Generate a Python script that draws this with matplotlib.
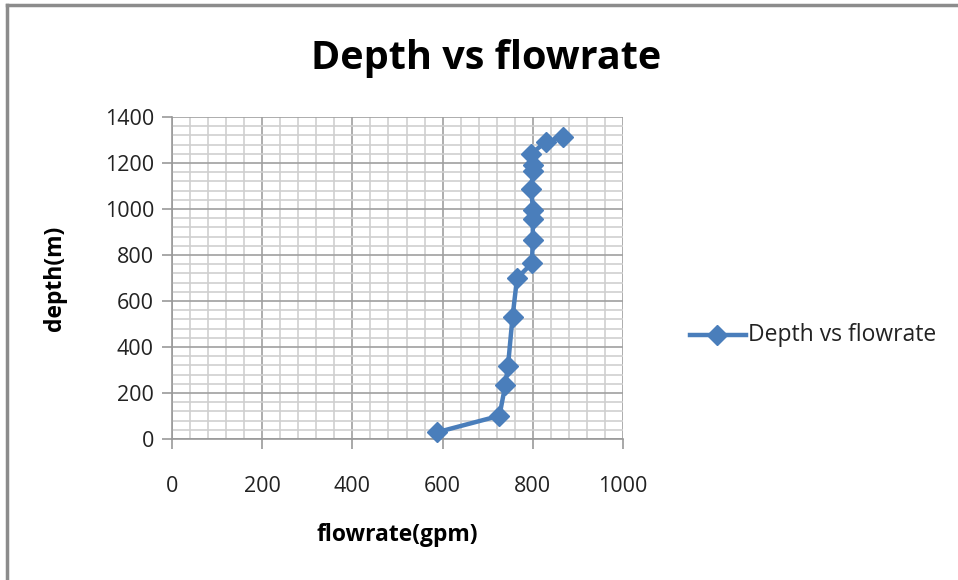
import matplotlib
matplotlib.use("Agg")
import matplotlib.pyplot as plt
from matplotlib.ticker import MultipleLocator
from matplotlib.lines import Line2D

plt.rcParams['font.family'] = ['Open Sans', 'DejaVu Sans']

flowrate = [587, 726, 739, 745, 755, 765, 798, 800, 800, 800, 797, 800, 800, 797, 829, 868]
depth = [29, 101, 234, 318, 529, 699, 764, 865, 956, 995, 1089, 1165, 1190, 1241, 1292, 1313]
series_name = "Depth vs flowrate"
x_ticks = [0, 200, 400, 600, 800, 1000]
y_ticks = [0, 200, 400, 600, 800, 1000, 1200, 1400]

fig = plt.figure(figsize=(9.58, 5.8), dpi=100)
ax = fig.add_axes([172/958, 1-439/580, (623-172)/958, (439-117)/580])

color = '#4A7EBB'
ax.plot(flowrate, depth, color=color, lw=3.2, marker='D', ms=10, mfc=color, mec=color,
        solid_joinstyle='round', zorder=5, clip_on=False)

ax.set_xlim(0, 1000)
ax.set_ylim(0, 1400)
ax.set_xticks(x_ticks)
ax.set_yticks(y_ticks)
ax.xaxis.set_minor_locator(MultipleLocator(40))
ax.yaxis.set_minor_locator(MultipleLocator(40))
ax.grid(which='minor', color='#cfcfcf', lw=1.2)
ax.grid(which='major', color='#a0a0a0', lw=1.2)
ax.set_axisbelow(True)
for s in ['top', 'right']:
    ax.spines[s].set_visible(False)
for s in ['left', 'bottom']:
    ax.spines[s].set_color('#999999')
    ax.spines[s].set_linewidth(1.2)
ax.tick_params(which='major', direction='out', length=7, width=1.2, color='#999999',
               labelsize=15.5, labelcolor='#222222')
ax.tick_params(which='minor', length=0)
ax.tick_params(axis='x', pad=20)
ax.tick_params(axis='y', pad=6)

fig.text(486/958, 1-58/580, "Depth vs flowrate", ha='center', va='center',
         fontsize=28.5, fontweight='bold')
fig.text(397/958, 1-535/580, "flowrate(gpm)", ha='center', va='center',
         fontsize=16.5, fontweight='bold')
fig.text(55/958, 1-278/580, "depth(m)", ha='center', va='center', rotation=90,
         fontsize=16.5, fontweight='bold')

# legend
fig.add_artist(Line2D([690/958, 746/958], [1-335/580]*2, color=color, lw=3.2))
fig.add_artist(Line2D([717/958], [1-335/580], color=color, marker='D', ms=10))
fig.text(748/958, 1-335/580, series_name, ha='left', va='center', fontsize=16.5, color='#222222')

# outer border
fig.add_artist(Line2D([7/958, 7/958], [0, 1-5/580], color='#8c8c8c', lw=2.5))
fig.add_artist(Line2D([7/958, 1], [1-5/580, 1-5/580], color='#8c8c8c', lw=2.5))

fig.savefig('out.png', dpi=100)
